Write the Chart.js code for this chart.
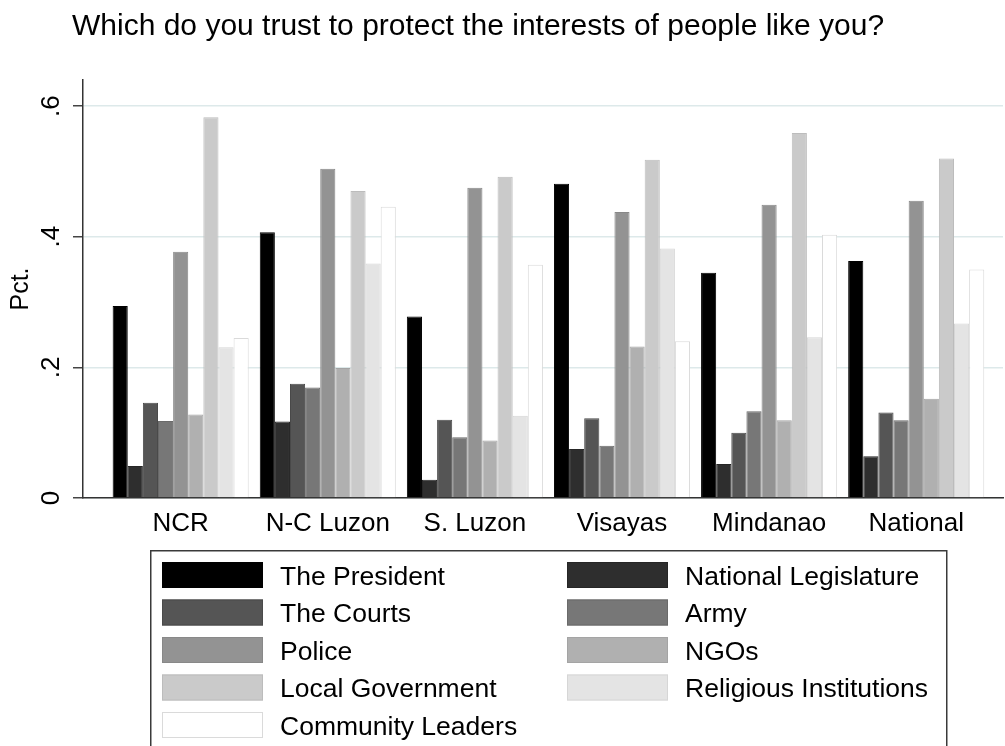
<!DOCTYPE html>
<html>
<head>
<meta charset="utf-8">
<script src="https://cdn.jsdelivr.net/npm/chart.js@4/dist/chart.umd.min.js"></script>
<style>
  html, body { margin: 0; padding: 0; background: #fff; }
  canvas { display: block; }
</style>
</head>
<body>
<canvas id="trustChart" width="1005" height="746"></canvas>
<script>
const titleText = "Which do you trust to protect the interests of people like you?";
const categories = ["NCR", "N-C Luzon", "S. Luzon", "Visayas", "Mindanao", "National"];

const seriesNames = [
  "The President", "National Legislature", "The Courts", "Army", "Police",
  "NGOs", "Local Government", "Religious Institutions", "Community Leaders"
];

// share who trust each institution, by region
const president   = [0.294, 0.407, 0.278, 0.481, 0.345, 0.363];
const legislature = [0.049, 0.117, 0.028, 0.075, 0.052, 0.064];
const courts      = [0.146, 0.175, 0.120, 0.122, 0.100, 0.131];
const army        = [0.118, 0.169, 0.093, 0.080, 0.133, 0.119];
const police      = [0.377, 0.504, 0.475, 0.438, 0.449, 0.455];
const ngos        = [0.128, 0.199, 0.088, 0.232, 0.119, 0.152];
const localGov    = [0.583, 0.470, 0.492, 0.518, 0.559, 0.520];
const religious   = [0.231, 0.359, 0.126, 0.382, 0.246, 0.267];
const community   = [0.245, 0.446, 0.357, 0.240, 0.403, 0.350];

const yTicks = [0, 0.2, 0.4, 0.6];
const yTickLabels = ["0", ".2", ".4", ".6"];

const fills   = ["#000000", "#2e2e2e", "#555555", "#777777", "#939393", "#b0b0b0", "#cacaca", "#e4e4e4", "#ffffff"];
const borders = ["#000000", "#262626", "#4a4a4a", "#6a6a6a", "#888888", "#a4a4a4", "#bcbcbc", "#d6d6d6", "#dadada"];

const allSeries = [president, legislature, courts, army, police, ngos, localGov, religious, community];
const font = "'Liberation Sans', Arial, Helvetica, sans-serif";

const datasets = allSeries.map((values, i) => ({
  label: seriesNames[i],
  data: values,
  backgroundColor: fills[i],
  borderColor: borders[i],
  borderWidth: 1,
  categoryPercentage: 0.925,
  barPercentage: 1
}));

// stata-ish title and two column legend drawn on the canvas
const stataDecor = {
  id: "stataDecor",
  afterDraw(chart) {
    const ctx = chart.ctx;
    ctx.save();
    ctx.fillStyle = "#000";
    ctx.font = "30px " + font;
    ctx.textAlign = "left";
    ctx.textBaseline = "alphabetic";
    ctx.fillText(titleText, 72, 35);

    // legend frame
    ctx.strokeStyle = "#3a3a3a";
    ctx.lineWidth = 1.5;
    ctx.strokeRect(150.75, 550.75, 796, 260);

    ctx.font = "26.5px " + font;
    chart.data.datasets.forEach((ds, i) => {
      const col = i % 2, row = Math.floor(i / 2);
      const sx = col === 0 ? 162 : 567;
      const tx = col === 0 ? 280 : 685;
      const sy = 562 + row * 37.5;
      ctx.fillStyle = ds.backgroundColor;
      ctx.fillRect(sx, sy, 101, 26);
      ctx.strokeStyle = ds.borderColor;
      ctx.lineWidth = 1;
      ctx.strokeRect(sx + 0.5, sy + 0.5, 100, 25);
      ctx.fillStyle = "#000";
      ctx.fillText(ds.label, tx, sy + 22.5);
    });
    ctx.restore();
  }
};

new Chart(document.getElementById("trustChart"), {
  type: "bar",
  data: {
    labels: categories.map((c, i) => i),
    datasets
  },
  options: {
    responsive: false,
    animation: false,
    devicePixelRatio: 1,
    layout: { padding: { top: 80, bottom: 198, left: 0, right: 2 } },
    plugins: {
      legend: { display: false },
      tooltip: { enabled: false },
      title: { display: false }
    },
    scales: {
      x: {
        type: "linear",
        min: -0.664,
        max: 5.59,
        offset: false,
        grid: { display: false, drawTicks: false },
        border: { display: true, color: "#333", width: 1.5 },
        afterBuildTicks: scale => {
          scale.ticks = categories.map((c, i) => ({ value: i }));
        },
        afterFit: scale => { scale.height = 50; },
        ticks: {
          autoSkip: false,
          padding: 10,
          color: "#000",
          font: { family: font, size: 26 },
          callback: v => categories[v]
        }
      },
      y: {
        min: 0,
        max: 0.64,
        grid: {
          color: "#dde9ea",
          lineWidth: 1.5,
          tickColor: "#444",
          tickLength: 10,
          tickWidth: 1.5
        },
        border: { display: true, color: "#333", width: 1.5 },
        afterBuildTicks: scale => {
          scale.ticks = yTicks.map(v => ({ value: v }));
        },
        afterFit: scale => { scale.width = 83; },
        ticks: {
          minRotation: 90,
          maxRotation: 90,
          crossAlign: "center",
          padding: 10,
          color: "#000",
          font: { family: font, size: 26 },
          callback: v => yTickLabels[yTicks.indexOf(v)]
        },
        title: {
          display: true,
          text: "Pct.",
          color: "#000",
          padding: { top: 6, bottom: 0 },
          font: { family: font, size: 25 }
        }
      }
    }
  },
  plugins: [stataDecor]
});
</script>
</body>
</html>
